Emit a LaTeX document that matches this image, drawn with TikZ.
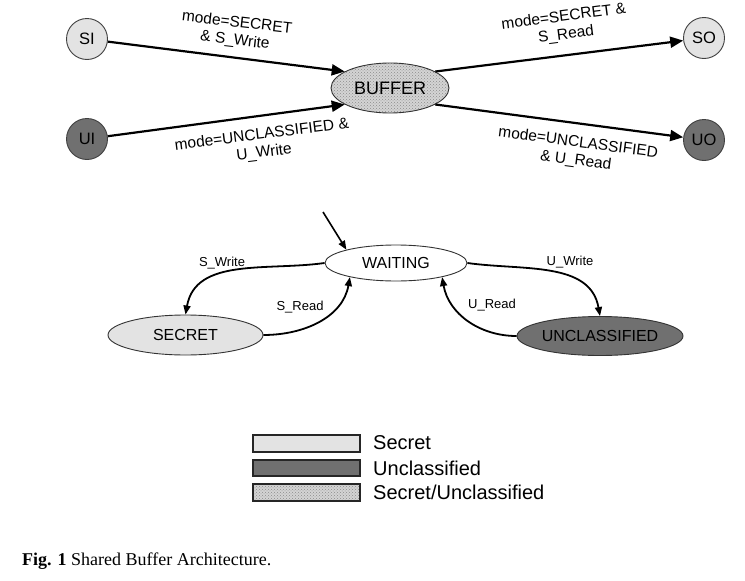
\documentclass[tikz,border=0pt]{standalone}
\usepackage{fontspec}
\setmainfont{Liberation Sans}
\newfontfamily\capfont{Liberation Serif}
\usepackage{tikz}
\usetikzlibrary{arrows.meta}
\usetikzlibrary{patterns}
\usetikzlibrary{shapes}

\begin{document}
\begin{tikzpicture}[x=1pt,y=1pt,yscale=-1,xscale=1,
  port/.style={draw=black!75, line width=0.9pt, circle, minimum size=41pt, inner sep=0pt, font=\fontsize{16.5}{18}\selectfont},
  state/.style={draw=black!80, line width=0.9pt, ellipse, inner sep=0pt, font=\fontsize{16}{18}\selectfont},
  secretfill/.style={fill=black!11},
  unclfill/.style={fill=black!56},
  mixfill/.style={preaction={fill=black!17}, pattern=crosshatch dots, pattern color=black!45},
  flow/.style={line width=2.2pt, -{Triangle[length=13pt,width=11pt]}},
  trans/.style={line width=1.8pt, -{Triangle[length=9pt,width=7pt]}},
  flowlabel/.style={align=center, inner sep=0.75pt, font=\fontsize{15.5}{18}\selectfont},
  translabel/.style={inner sep=0.75pt, font=\fontsize{13}{15}\selectfont},
  legbox/.style={draw=black!85, line width=1.6pt},
  legtext/.style={anchor=west, inner sep=0pt, font=\fontsize{20}{22}\selectfont}]
%set diagram left start at 0, size of the reference
\path[use as bounding box] (0,0) rectangle (745,581);

%Shape: Circle [id:si]
\node[port, secretfill] (si) at (87,39) {SI};
%Shape: Circle [id:ui]
\node[port, unclfill] (ui) at (87,139) {UI};
%Shape: Circle [id:so]
\node[port, secretfill] (so) at (704,38) {SO};
%Shape: Circle [id:uo]
\node[port, unclfill] (uo) at (704,140) {UO};
%Shape: Ellipse [id:buffer]
\node[state, mixfill, minimum width=118pt, minimum height=50pt, font=\fontsize{18}{20}\selectfont] (buffer) at (390,88) {BUFFER};

%Straight Lines [id:siwrite]
\draw[flow] (si) -- (buffer.160);
%Straight Lines [id:uiwrite]
\draw[flow] (ui) -- (buffer.200);
%Straight Lines [id:soread]
\draw[flow] (buffer.20) -- (so);
%Straight Lines [id:uoread]
\draw[flow] (buffer.340) -- (uo);

% Text Node
\node[flowlabel, rotate=-6.6] (lsw) at (236,32) {mode=SECRET\\\& S\_Write};
% Text Node
\node[flowlabel, rotate=7.2] (luw) at (263,144) {mode=UNCLASSIFIED \&\\U\_Write};
% Text Node
\node[flowlabel, rotate=7.5] (lsr) at (565,26) {mode=SECRET \&\\S\_Read};
% Text Node
\node[flowlabel, rotate=-7.4] (lur) at (577,152) {mode=UNCLASSIFIED\\\& U\_Read};

%Shape: Ellipse [id:waiting]
\node[state, fill=white, minimum width=142pt, minimum height=36pt] (waiting) at (396,263) {WAITING};
%Shape: Ellipse [id:secret]
\node[state, secretfill, minimum width=155pt, minimum height=40pt] (secret) at (185.5,335) {SECRET};
%Shape: Ellipse [id:uncl]
\node[state, unclfill, minimum width=166pt, minimum height=39pt] (uncl) at (600,336) {UNCLASSIFIED};

%Initial arrow
\coordinate (init) at (323,212);
\draw[trans, line width=1.6pt] (init) -- (waiting.165);
%Curve Lines (angles flipped by yscale=-1)
\draw[trans] (waiting.west) to[out=172, in=-80] (secret.north);
\draw[trans] (secret.east) to[out=0, in=100] (waiting.197);
\draw[trans] (waiting.east) to[out=8, in=-100] (uncl.north);
\draw[trans] (uncl.west) to[out=180, in=80] (waiting.343);

% Text Node
\node[translabel] (lswrite) at (222,263) {S\_Write};
% Text Node
\node[translabel] (lsread) at (300,307) {S\_Read};
% Text Node
\node[translabel] (luwrite) at (570,262) {U\_Write};
% Text Node
\node[translabel] (luread) at (492,305) {U\_Read};

%Shape: Rectangle [id:legend]
\draw[legbox, secretfill] (253,435) rectangle (360,452);
\draw[legbox, unclfill] (253,460) rectangle (360,476);
\draw[legbox, mixfill] (253,484) rectangle (360,501);
% Text Node
\node[legtext] (legs) at (373,443) {Secret};
% Text Node
\node[legtext] (legu) at (373,468) {Unclassified};
% Text Node
\node[legtext] (legm) at (373,492) {Secret/Unclassified};

% Caption
\node[anchor=west, inner sep=0pt, font=\capfont\fontsize{18}{20}\selectfont] (cap) at (22,561) {\textbf{Fig. 1} Shared Buffer Architecture.};
\end{tikzpicture}
\end{document}
